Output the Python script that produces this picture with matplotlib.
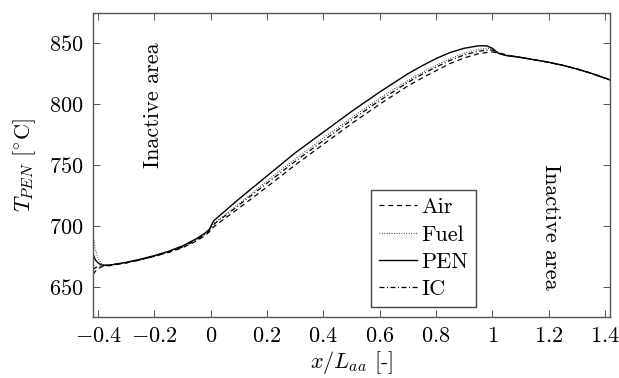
import matplotlib
matplotlib.use("Agg")
import matplotlib.pyplot as plt
from matplotlib.ticker import FuncFormatter

plt.rcParams["font.family"] = "serif"
plt.rcParams["font.serif"] = ["cmr10", "DejaVu Serif"]
plt.rcParams["mathtext.fontset"] = "cm"
plt.rcParams["axes.unicode_minus"] = False

# ---- data ----
x_pos = [-0.418, -0.41, -0.40, -0.39, -0.38, -0.37, -0.35, -0.30, -0.25, -0.20,
         -0.15, -0.10, -0.05, -0.02, -0.005, 0.01, 0.05, 0.10, 0.20, 0.30,
         0.40, 0.50, 0.60, 0.70, 0.75, 0.80, 0.85, 0.90, 0.95, 0.98,
         1.00, 1.02, 1.05, 1.10, 1.15, 1.20, 1.25, 1.30, 1.35, 1.418]

t_pen = [677, 672, 669.5, 668, 667.5, 667.5, 668, 670, 672.5, 675.5,
         679, 683.5, 689.5, 694, 697, 704, 712, 722, 741, 760,
         777, 794, 810, 825, 831.5, 837.5, 842.5, 846, 848, 848,
         846, 842, 840, 838.5, 836.5, 834.5, 832, 829, 825.5, 820]

t_fuel = [692, 681, 673, 669.5, 668, 667.5, 668, 669.5, 672, 675,
          678.5, 683, 689, 693.5, 696.5, 702, 709, 718, 737, 755,
          772, 789, 805, 819.5, 826, 832, 837.5, 842, 845, 846,
          845.5, 842.5, 840, 838.5, 836.5, 834.5, 832, 829, 825.5, 820]

t_ic = [664, 665.5, 666.5, 667, 667.5, 667.5, 668, 669.5, 672, 675,
        678.5, 682.5, 688.5, 693, 696, 701, 708, 717, 735, 753,
        770, 787, 803, 818, 824.5, 830.5, 836, 840.5, 843.5, 844.5,
        844.5, 842.5, 840.5, 838.5, 836.5, 834.5, 832, 829, 825.5, 820]

t_air = [660, 662.5, 664.5, 666, 667, 667, 667.5, 669.5, 672, 675,
         678, 682, 687.5, 692, 695, 699, 706, 714.5, 732, 750,
         767, 784, 800, 815, 821.5, 827.5, 833.5, 838, 841.5, 842.5,
         843, 842, 840, 838.5, 836.5, 834.5, 832, 829, 825.5, 820]

x_ticks = [-0.4, -0.2, 0, 0.2, 0.4, 0.6, 0.8, 1, 1.2, 1.4]
y_ticks = [650, 700, 750, 800, 850]

# ---- figure ----
W, H = 619, 378
fig = plt.figure(figsize=(W / 100, H / 100), dpi=100)
ax = fig.add_axes([93 / W, (H - 317) / H, 517 / W, 304 / H])

ax.plot(x_pos, t_air, color="black", lw=0.9, linestyle=(0, (4, 3)), label="Air")
ax.plot(x_pos, t_fuel, color="black", lw=0.8, linestyle=(0, (0.6, 1.6)), label="Fuel")
ax.plot(x_pos, t_pen, color="black", lw=1.0, linestyle="-", label="PEN")
ax.plot(x_pos, t_ic, color="black", lw=0.9, linestyle=(0, (4, 2, 0.8, 2)), label="IC")

ax.set_xlim(-0.418, 1.418)
ax.set_ylim(625, 875)
ax.set_xticks(x_ticks)
ax.set_yticks(y_ticks)

ax.xaxis.set_major_formatter(FuncFormatter(lambda v, p: "$%g$" % v))
ax.yaxis.set_major_formatter(FuncFormatter(lambda v, p: "$%d$" % v))

ax.tick_params(direction="in", top=True, right=True, length=5, width=0.7,
               color="#555555", labelsize=16, pad=7)
for s in ax.spines.values():
    s.set_color("#555555")
    s.set_linewidth(1.0)

ax.set_xlabel(r"$x/L_{aa}$ [-]", fontsize=16, labelpad=2)
ax.set_ylabel(r"$T_{PEN}$ [$^{\circ}$C]", fontsize=16, labelpad=8)

ax.text(-0.204, 799, "Inactive area", rotation=90, ha="center", va="center", fontsize=16)
ax.text(1.206, 699, "Inactive area", rotation=-90, ha="center", va="center", fontsize=16)

leg = ax.legend(loc="lower left", bbox_to_anchor=(0.538, 0.033), fontsize=16,
                frameon=True, fancybox=False, framealpha=1, edgecolor="#444444",
                handlelength=1.7, handletextpad=0.2, labelspacing=0.35,
                borderpad=0.35, borderaxespad=0)
leg.get_frame().set_linewidth(1.0)

fig.savefig("out.png", dpi=100)
